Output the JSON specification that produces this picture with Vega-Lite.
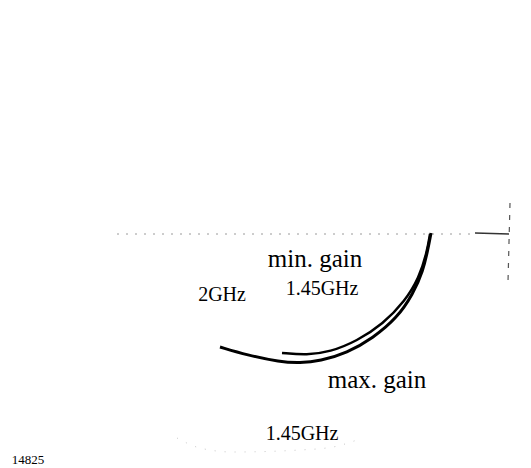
{
  "$schema": "https://vega.github.io/schema/vega-lite/v6.json",
  "width": 531,
  "height": 468,
  "padding": 0,
  "autosize": {"type": "fit", "contains": "padding"},
  "background": "white",
  "config": {"view": {"stroke": null}},
  "datasets": {
    "outer": [
      {"i": 0, "x": 220, "y": 347},
      {"i": 1, "x": 247, "y": 355},
      {"i": 2, "x": 280, "y": 362},
      {"i": 3, "x": 300, "y": 363},
      {"i": 4, "x": 320, "y": 361},
      {"i": 5, "x": 347, "y": 353},
      {"i": 6, "x": 373, "y": 338},
      {"i": 7, "x": 397, "y": 318},
      {"i": 8, "x": 413, "y": 294},
      {"i": 9, "x": 423, "y": 271},
      {"i": 10, "x": 428, "y": 249},
      {"i": 11, "x": 431, "y": 233}
    ],
    "inner": [
      {"i": 0, "x": 282, "y": 353},
      {"i": 1, "x": 307, "y": 355},
      {"i": 2, "x": 330, "y": 352},
      {"i": 3, "x": 357, "y": 341},
      {"i": 4, "x": 383, "y": 324},
      {"i": 5, "x": 405, "y": 301},
      {"i": 6, "x": 419, "y": 278},
      {"i": 7, "x": 427, "y": 252},
      {"i": 8, "x": 430, "y": 234}
    ],
    "hline": [
      {"i": 0, "x": 117, "y": 234},
      {"i": 1, "x": 470, "y": 234}
    ],
    "stub": [
      {"i": 0, "x": 475, "y": 233},
      {"i": 1, "x": 509, "y": 234}
    ],
    "vline": [
      {"i": 0, "x": 510, "y": 203},
      {"i": 1, "x": 508, "y": 282}
    ],
    "faint": [
      {"i": 0, "x": 177, "y": 438},
      {"i": 1, "x": 200, "y": 448},
      {"i": 2, "x": 233, "y": 452},
      {"i": 3, "x": 300, "y": 450},
      {"i": 4, "x": 333, "y": 447},
      {"i": 5, "x": 357, "y": 440}
    ],
    "labels": [
      {"x": 315, "y": 267, "t": "min. gain", "s": 25},
      {"x": 322, "y": 295, "t": "1.45GHz", "s": 20},
      {"x": 222, "y": 301, "t": "2GHz", "s": 20},
      {"x": 377, "y": 388, "t": "max. gain", "s": 25},
      {"x": 302, "y": 440, "t": "1.45GHz", "s": 20},
      {"x": 28, "y": 464, "t": "14825", "s": 13}
    ]
  },
  "encoding": {
    "x": {"field": "x", "type": "quantitative", "scale": {"domain": [0, 531], "nice": false, "zero": false}, "axis": null},
    "y": {"field": "y", "type": "quantitative", "scale": {"domain": [0, 468], "reverse": true, "nice": false, "zero": false}, "axis": null},
    "order": {"field": "i", "type": "quantitative"}
  },
  "layer": [
    {"data": {"name": "hline"}, "mark": {"type": "line", "color": "#9a9a9a", "strokeWidth": 1, "strokeDash": [2, 7]}},
    {"data": {"name": "faint"}, "mark": {"type": "line", "color": "#c8c8c8", "strokeWidth": 1, "strokeDash": [1, 9], "interpolate": "monotone"}},
    {"data": {"name": "stub"}, "mark": {"type": "line", "color": "#333", "strokeWidth": 1.5}},
    {"data": {"name": "vline"}, "mark": {"type": "line", "color": "#555", "strokeWidth": 1.2, "strokeDash": [5, 7]}},
    {"data": {"name": "outer"}, "mark": {"type": "line", "color": "black", "strokeWidth": 3, "interpolate": "basis"}},
    {"data": {"name": "inner"}, "mark": {"type": "line", "color": "black", "strokeWidth": 2.5, "interpolate": "basis"}},
    {
      "data": {"name": "labels"},
      "mark": {"type": "text", "font": "Liberation Serif", "color": "black", "baseline": "alphabetic", "align": "center"},
      "encoding": {
        "text": {"field": "t"},
        "size": {"field": "s", "type": "quantitative", "scale": null},
        "order": null
      }
    }
  ]
}
